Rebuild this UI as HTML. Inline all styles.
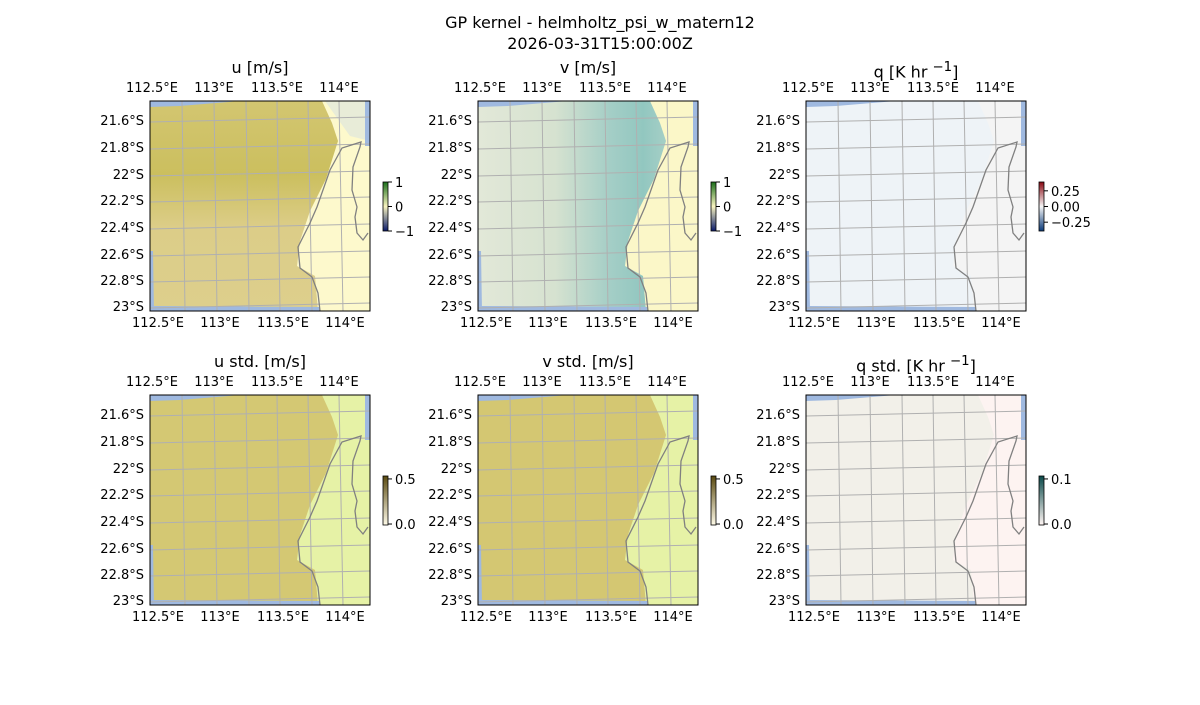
<!DOCTYPE html>
<html><head><meta charset="utf-8"><style>
body{margin:0;background:#fff;}
svg text{font-family:"DejaVu Sans","Liberation Sans",sans-serif;fill:#000;}
</style></head><body>
<svg id="s" width="1200" height="700" viewBox="0 0 1200 700" xmlns="http://www.w3.org/2000/svg">
<defs>
<linearGradient id="gu" x1="0" y1="0" x2="0" y2="1"><stop offset="0" stop-color="#d3c671"/><stop offset="0.35" stop-color="#cbbf5e"/><stop offset="0.6" stop-color="#dccd88"/><stop offset="1" stop-color="#ddcf8c"/></linearGradient>
<linearGradient id="gv" x1="0" y1="0" x2="1" y2="0"><stop offset="0" stop-color="#e2e8d8"/><stop offset="0.35" stop-color="#d6e2d0"/><stop offset="0.6" stop-color="#a4cec6"/><stop offset="0.75" stop-color="#92c7c0"/><stop offset="1" stop-color="#c0dace"/></linearGradient>
<linearGradient id="cb1" x1="0" y1="0" x2="0" y2="1"><stop offset="0" stop-color="#1a6e1a"/><stop offset="0.5" stop-color="#f8f4c0"/><stop offset="1" stop-color="#0a1a6a"/></linearGradient>
<linearGradient id="cb2" x1="0" y1="0" x2="0" y2="1"><stop offset="0" stop-color="#8b0a14"/><stop offset="0.5" stop-color="#f6f6f6"/><stop offset="1" stop-color="#0a3a7a"/></linearGradient>
<linearGradient id="cb3" x1="0" y1="0" x2="0" y2="1"><stop offset="0" stop-color="#5a4a10"/><stop offset="1" stop-color="#fffbe8"/></linearGradient>
<linearGradient id="cb4" x1="0" y1="0" x2="0" y2="1"><stop offset="0" stop-color="#0a4a4a"/><stop offset="1" stop-color="#fff6f4"/></linearGradient>
</defs>
<text x="600" y="28" font-size="16" text-anchor="middle">GP kernel - helmholtz_psi_w_matern12</text>
<text x="600" y="49" font-size="16" text-anchor="middle">2026-03-31T15:00:00Z</text>
</svg>
<script>
const s=document.getElementById('s');let h='';
const P=[
 {x:150,y:101,t:'u [m/s]',bg:'url(#gu)',land:'#fdf9cc',cb:'cb1',ticks:[['1',0],['0',0.5],['−1',1]]},
 {x:478,y:101,t:'v [m/s]',bg:'url(#gv)',land:'#fbf7c8',cb:'cb1',ticks:[['1',0],['0',0.5],['−1',1]]},
 {x:806,y:101,t:'q [K hr <sup>−1</sup>]',bg:'#eef3f7',land:'#f4f4f4',cb:'cb2',ticks:[['0.25',0.18],['0.00',0.5],['−0.25',0.82]]},
 {x:150,y:395,t:'u std. [m/s]',bg:'#d4c873',land:'#e6f2a6',cb:'cb3',ticks:[['0.5',0.06],['0.0',0.98]]},
 {x:478,y:395,t:'v std. [m/s]',bg:'#d4c772',land:'#e6f2a6',cb:'cb3',ticks:[['0.5',0.06],['0.0',0.98]]},
 {x:806,y:395,t:'q std. [K hr <sup>−1</sup>]',bg:'#f2f0e9',land:'#fdf3f1',cb:'cb4',ticks:[['0.1',0.06],['0.0',0.98]]}];
const lats=['21.6°S','21.8°S','22°S','22.2°S','22.4°S','22.6°S','22.8°S','23°S'];
const ly=[19,46,73,99,126,153,179,205];
const lons=['112.5°E','113°E','113.5°E','114°E'];const lx=[2,64,127,189];
const coast='M170,210 L168,192 L162,176 L150,167 L148,146 L160,122 L167,106 L180,69 L192,47 L211,41 L210,46 L203,66 L202,89 L207,106 L205,116 L207,132 L213,139 L218,132';
P.forEach((p,i)=>{
 const X=p.x,Y=p.y;
 h+=`<g transform="translate(${X},${Y})">`;
 h+=`<rect x="0" y="0" width="220" height="210" fill="${p.bg}"/>`;
 h+=`<path d="M172,0 L182,22 L188,40 L176,78 L160,110 L150,140 L147,165 L165,175 L168,210 L220,210 L220,0 Z" fill="${p.land}"/>`;
 if(i==0)h+=`<path d="M175,0 L220,0 L220,40 L200,35 Z" fill="#e8ecd8"/>`;
 h+=`<path d="M0,0 L90,0 L30,5 L0,6 Z" fill="#9fb9e0"/><rect x="215" y="0" width="5" height="45" fill="#9fb9e0"/><path d="M0,150 L3,150 L4,210 L0,210Z" fill="#9fb9e0"/><path d="M0,205 L170,206 L170,210 L0,210Z" fill="#9fb9e0"/>`;
 const vx=[[32,35],[64,67],[96,99],[127,130],[158,162],[189,193]];
 vx.forEach(v=>h+=`<line x1="${v[0]}" y1="0" x2="${v[1]}" y2="210" stroke="#b0b0b0" stroke-width="1"/>`);
 [21,48,75,101,128,155,181,207].forEach(y=>h+=`<line x1="0" y1="${y}" x2="220" y2="${y-5}" stroke="#b0b0b0" stroke-width="1"/>`);
 h+=`<path d="${coast}" fill="none" stroke="#808080" stroke-width="1.3"/>`;
 h+=`<rect x="0" y="0" width="220" height="210" fill="none" stroke="#000" stroke-width="1"/>`;
 lats.forEach((l,k)=>h+=`<text x="-6" y="${ly[k]+5}" font-size="13" text-anchor="end">${l}</text>`);
 lons.forEach((l,k)=>{h+=`<text x="${lx[k]}" y="-9" font-size="13" text-anchor="middle">${l}</text><text x="${lx[k]+6}" y="226" font-size="13" text-anchor="middle">${l}</text>`;});
 h+=`</g>`;
 h+=`<foreignObject x="${X}" y="${Y-48}" width="220" height="30"><div xmlns="http://www.w3.org/1999/xhtml" style="font:16px 'DejaVu Sans','Liberation Sans',sans-serif;text-align:center;line-height:30px">${p.t}</div></foreignObject>`;
 const cx=X+233,cy=Y+81;
 h+=`<rect x="${cx}" y="${cy}" width="5" height="49" fill="url(#${p.cb})" stroke="#000" stroke-width="0.8"/>`;
 p.ticks.forEach(t=>{const ty=cy+t[1]*49;h+=`<line x1="${cx+5}" y1="${ty}" x2="${cx+9}" y2="${ty}" stroke="#000"/><text x="${cx+12}" y="${ty+5}" font-size="13">${t[0]}</text>`;});
});
s.insertAdjacentHTML('beforeend',h);
</script>
</body></html>
